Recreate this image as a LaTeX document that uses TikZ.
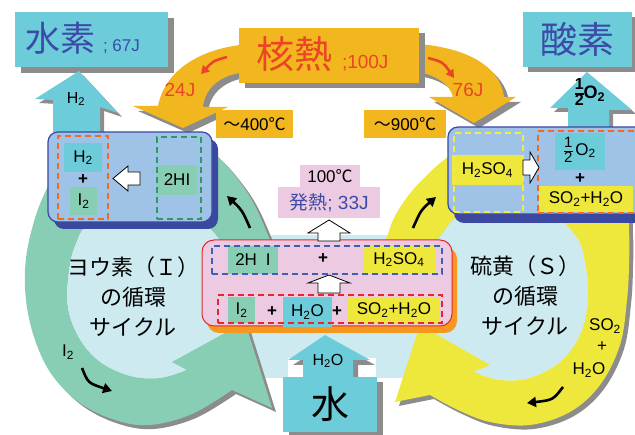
\documentclass[tikz,border=0pt]{standalone}
\usepackage{fontspec}
\setmainfont{Liberation Sans}
\newfontfamily\jp{Noto Sans CJK JP}
\usetikzlibrary{arrows.meta}
\definecolor{cyanb}{HTML}{6DCCDA}
\definecolor{greenr}{HTML}{88CEB4}
\definecolor{yellowr}{HTML}{EEE73C}
\definecolor{gold}{HTML}{F2B71F}
\definecolor{lightbg}{HTML}{CDEAF0}
\definecolor{boxblue}{HTML}{9EC3E6}
\definecolor{darkblue}{HTML}{3B48A0}
\definecolor{pinkb}{HTML}{ECCBE2}
\definecolor{redb}{HTML}{E8262B}
\definecolor{orangesh}{HTML}{F5981F}
\definecolor{shgray}{HTML}{8C8C8C}
\definecolor{textblue}{HTML}{3D4BA8}
\definecolor{textred}{HTML}{EA4525}
\definecolor{dashorange}{HTML}{F06A22}
\definecolor{dashgreen}{HTML}{2E9A62}
\definecolor{dashyellow}{HTML}{F4E84A}
\definecolor{dashblue}{HTML}{3F5EB4}
\definecolor{dashred}{HTML}{E5262E}
\newcommand\fs[1]{\fontsize{#1}{#1}\selectfont}
\newcommand\sbs[1]{\textsubscript{#1}}
\newcommand\halff[2]{{\fs{#1}\renewcommand\arraystretch{0.85}\setlength\arrayrulewidth{#2}\begin{tabular}[c]{@{}c@{}}1\\\hline 2\end{tabular}}}
\def\greenring{plot[smooth,tension=0.6] coordinates {(276,255) (270,240) (258,212) (247,192) (232,172) (218,157) (195,140) (150,135) (95,140) (62,160) (50,182) (36,215) (26,258) (26,300) (35,340) (52,375) (80,403) (115,420) (150,425) (192,414) (232,390)} -- (272,408) -- (245,322) -- (172,362) -- plot[smooth,tension=0.6] coordinates {(187,370) (160,378) (130,376) (100,362) (80,340) (68,310) (68,276) (75,245) (92,222) (150,205) (200,220) (227,250) (235,262)} -- cycle}
\def\greendisk{plot[smooth,tension=0.6] coordinates {(187,370) (160,378) (130,376) (100,362) (80,340) (68,310) (68,276) (75,245) (92,222) (150,205) (200,220) (227,250) (235,262)} -- (240,300) -- (205,345) -- cycle}
\def\yellowring{plot[smooth,tension=0.6] coordinates {(378,255) (387,237) (393,220) (405,200) (422,180) (448,157) (480,140) (540,132) (600,145) (625,185) (629,230) (629,265) (627,300) (620,345) (600,385) (570,412) (530,425) (490,422) (458,410) (430,395)} -- (395,402) -- (420,325) -- (490,365) -- plot[smooth,tension=0.6] coordinates {(473,372) (500,380) (530,378) (560,362) (580,335) (588,300) (585,262) (575,235) (540,205) (480,205) (455,218) (443,232) (430,250) (422,262)} -- cycle}
\def\yellowdisk{plot[smooth,tension=0.6] coordinates {(473,372) (500,380) (530,378) (560,362) (580,335) (588,300) (585,262) (575,235) (540,205) (480,205) (455,218) (443,232) (430,250) (422,262)} -- (415,300) -- (450,345) -- cycle}
\def\leftorange{(240,45) .. controls (200,50) and (165,70) .. (158,106) -- (133,106) -- (183,128) -- (228,107) -- (203,107) .. controls (205,88) and (220,76) .. (240,73) -- cycle}
\def\rightorange{(419,44) .. controls (465,48) and (500,65) .. (504,97) -- (516,97) -- (474,123) -- (429,97) -- (453,97) .. controls (450,85) and (438,76) .. (419,72) -- cycle}
\def\htwoarrow{(53,132) -- (53,100) -- (35,99) -- (79,71) -- (118,113) -- (100,107) -- (100,132) -- cycle}
\def\otwoarrow{(568,127) -- (568,108) -- (550,108) -- (587,72) -- (632,110) -- (609,110) -- (609,127) -- cycle}
\def\waterarrow{(303,377) -- (303,360) -- (288,360) -- (325,335) -- (370,360) -- (353,360) -- (353,377) -- cycle}
\tikzset{
 plain/.style={inner sep=0pt, outer sep=0pt},
 fillbox/.style={plain, fill=#1},
 formula/.style={font=\fs{17}, text=black},
 dashbox/.style={plain, draw=#1, line width=1.8pt, dash pattern=on 6pt off 4pt},
 blkarrow/.style={line width=2.6pt, -{Triangle[length=9pt,width=10pt]}, black},
 redarrow/.style={line width=2.6pt, -{Triangle[length=8pt,width=9pt]}, textred},
 hollow/.style={fill=white, draw=black, line width=0.8pt, line join=miter},
}
\begin{document}
\begin{tikzpicture}[x=1pt,y=-1pt]
\useasboundingbox (0,0) rectangle (635,435);
% background
\fill[lightbg] (200,235) rectangle (470,378);
\fill[white] (288,358) rectangle (376,378);
% rings
\fill[shgray, shift={(4,4)}] \greenring;
\fill[shgray, shift={(4,4)}] \yellowring;
\fill[lightbg] \greendisk;
\fill[lightbg] \yellowdisk;
\fill[greenr] \greenring;
\fill[yellowr] \yellowring;
% water
\fill[shgray, shift={(5,5)}] \waterarrow;
\fill[cyanb] \waterarrow;
\node[fillbox=shgray, minimum width=94pt, minimum height=55pt] (mizush) at (336,410) {};
\node[fillbox=cyanb, minimum width=94pt, minimum height=55pt, font=\jp\fs{38}] (mizu) at (330,404.5) {水};
\node[plain, font=\fs{16}] (h2oin) at (328,361) {H\sbs2O};
% nuclear heat arrows
\fill[shgray, shift={(5,5)}] \leftorange;
\fill[shgray, shift={(5,5)}] \rightorange;
\fill[gold] \leftorange;
\fill[gold] \rightorange;
\node[fillbox=shgray, minimum width=180pt, minimum height=55pt] (kaksh) at (335,60.5) {};
\node[fillbox=gold, minimum width=180pt, minimum height=55pt] (kak) at (329,55.5) {};
\node[plain, anchor=base west, text=textred] (kaktxt) at (256,69) {{\jp\fs{38}核熱}\hspace{10pt}{\fs{19};100J}};
\node[plain, text=textred, font=\fs{19}] (t24) at (180,90) {24J};
\node[plain, text=textred, font=\fs{19}] (t76) at (468,90) {76J};
\coordinate (rl1) at (227,57); \coordinate (rl2) at (201,74);
\draw[redarrow] (rl1) .. controls (213,61) .. (rl2);
\coordinate (rr1) at (428,58); \coordinate (rr2) at (454,78);
\draw[redarrow] (rr1) .. controls (443,62) .. (rr2);
% hydrogen / oxygen
\node[fillbox=shgray, minimum width=153pt, minimum height=55pt] (suish) at (97.5,45.5) {};
\node[fillbox=cyanb, minimum width=153pt, minimum height=55pt] (sui) at (91.5,39.5) {};
\node[plain, anchor=base west, text=textblue, font=\fs{17}] (suitxt) at (25,52) {{\jp\fs{35}水素}\hspace{8pt}; 67J};
\node[fillbox=shgray, minimum width=109pt, minimum height=55pt] (sansh) at (582.5,44.5) {};
\node[fillbox=cyanb, minimum width=109pt, minimum height=55pt, font=\jp\fs{37}, text=textblue] (san) at (577.5,39.5) {酸素};
\fill[shgray, shift={(4,4)}] \htwoarrow;
\fill[cyanb] \htwoarrow;
\node[plain, font=\fs{16}] (h2up) at (76,99) {H\sbs2};
\fill[shgray, shift={(4,4)}] \otwoarrow;
\fill[cyanb] \otwoarrow;
\node[plain, font=\bfseries\fs{18}] (o2up) at (590,94) {\halff{16}{1.6pt}O\sbs2};
% temperatures
\node[fillbox=gold, minimum width=77pt, minimum height=28pt, font=\fs{17}] (t400) at (254.5,124) {{\jp ～}400{\jp ℃}};
\node[fillbox=gold, minimum width=82pt, minimum height=28pt, font=\fs{17}] (t900) at (405,124) {{\jp ～}900{\jp ℃}};
% left blue box
\node[fillbox=darkblue, rounded corners=10pt, minimum width=164pt, minimum height=90pt] (lbsh) at (136,184) {};
\node[fillbox=boxblue, draw=darkblue, line width=1.2pt, rounded corners=10pt, minimum width=164pt, minimum height=90pt] (lbox) at (130,177) {};
\node[fillbox=cyanb, minimum width=38pt, minimum height=29pt, formula] (lh2) at (83,157.5) {H\sbs2};
\node[plain, formula] (lplus) at (83,180) {\textbf{+}};
\node[fillbox=greenr, minimum width=27pt, minimum height=28pt, formula] (li2) at (83.5,201) {I\sbs2};
\node[dashbox=dashorange, minimum width=50pt, minimum height=83pt] (lod) at (83,177.5) {};
\node[fillbox=greenr, minimum width=40pt, minimum height=30pt, formula] (l2hi) at (177,180) {2HI};
\node[dashbox=dashgreen, minimum width=44pt, minimum height=82pt] (lgd) at (179,178) {};
\draw[hollow] (140,172) -- (128,172) -- (128,166) -- (113,178.5) -- (128,191) -- (128,185) -- (140,185) -- cycle;
% right blue box
\node[fillbox=darkblue, rounded corners=10pt, minimum width=197pt, minimum height=87pt] (rbsh) at (552.5,179.5) {};
\node[fillbox=boxblue, draw=darkblue, line width=1.2pt, rounded corners=10pt, minimum width=197pt, minimum height=87pt] (rbox) at (546.5,170.5) {};
\node[fillbox=yellowr, minimum width=71pt, minimum height=30pt, formula] (rh2so4) at (487.5,170) {H\sbs2SO\sbs4};
\node[dashbox=dashyellow, minimum width=69pt, minimum height=79pt] (ryd) at (488.5,172.5) {};
\node[fillbox=cyanb, minimum width=50pt, minimum height=37pt, formula] (ro2) at (580,151.5) {\halff{15}{0.8pt}\,O\sbs2};
\node[plain, formula] (rplus) at (580,179) {\textbf{+}};
\node[fillbox=yellowr, minimum width=94pt, minimum height=26pt, formula] (rso2) at (586,199) {SO\sbs2+H\sbs2O};
\node[dashbox=dashorange, minimum width=107pt, minimum height=82pt] (rod) at (591.5,172) {};
\draw[hollow] (523,160) -- (530,160) -- (530,152) -- (539,167.5) -- (530,183) -- (530,175) -- (523,175) -- cycle;
% pink box
\node[fillbox=orangesh, rounded corners=12pt, minimum width=250pt, minimum height=86pt] (pksh) at (332,290) {};
\node[fillbox=pinkb, draw=redb, line width=1pt, rounded corners=12pt, minimum width=250pt, minimum height=86pt] (pbox) at (327,283) {};
\node[fillbox=greenr, minimum width=50pt, minimum height=28pt, formula] (p2hi) at (253,260) {2H\hspace{9pt}I};
\node[plain, formula] (pplus1) at (323,259) {\textbf{+}};
\node[fillbox=yellowr, minimum width=72pt, minimum height=27pt, formula] (ph2so4) at (399,259.5) {H\sbs2SO\sbs4};
\node[dashbox=dashblue, minimum width=230pt, minimum height=28pt] (pbd) at (327,260) {};
\node[fillbox=greenr, minimum width=27pt, minimum height=26pt, formula] (pi2) at (241.5,310) {I\sbs2};
\node[plain, formula] (pplus2) at (272,312) {\textbf{+}};
\node[fillbox=cyanb, minimum width=49pt, minimum height=30pt, formula] (ph2o) at (307.5,312) {H\sbs2O};
\node[plain, formula] (pplus3) at (337,312) {\textbf{+}};
\node[fillbox=yellowr, minimum width=92pt, minimum height=26pt, formula] (pso2) at (394,310) {SO\sbs2+H\sbs2O};
\node[dashbox=dashred, minimum width=224pt, minimum height=28pt] (prd) at (330,309) {};
\draw[hollow] (318,293) -- (318,283) -- (308,283) -- (329,275) -- (350,283) -- (340,283) -- (340,293) -- cycle;
\draw[hollow] (318,241) -- (318,233) -- (308,233) -- (329,220) -- (350,233) -- (340,233) -- (340,241) -- cycle;
\node[fillbox=pinkb, minimum width=60pt, minimum height=22pt, font=\fs{17}] (p100) at (330,176) {100{\jp ℃}};
\node[fillbox=pinkb, minimum width=102pt, minimum height=31pt, font=\fs{19}, text=textblue] (phat) at (329,202.5) {{\jp 発熱}; 33J};
% cycle labels
\node[plain, align=center, font=\jp\fontsize{22}{30}\selectfont] (cycI) at (133,297) {ヨウ素（Ｉ）\\の循環\\サイクル};
\node[plain, align=center, font=\jp\fontsize{22}{30}\selectfont] (cycS) at (525,296) {硫黄（Ｓ）\\の循環\\サイクル};
\node[plain, formula] (li2lab) at (68,352) {I\sbs2};
\coordinate (ia1) at (82,368); \coordinate (ia2) at (112,391);
\draw[blkarrow] (ia1) .. controls (88,383) .. (ia2);
\node[plain, formula] (so2lab) at (605,326) {SO\sbs2};
\node[plain, formula] (pluslab) at (602,347) {+};
\node[plain, formula] (h2olab) at (589,370) {H\sbs2O};
\coordinate (sa1) at (563,387); \coordinate (sa2) at (527,403);
\draw[blkarrow] (sa1) .. controls (553,400) .. (sa2);
\coordinate (ga1) at (250,228); \coordinate (ga2) at (227,196);
\draw[blkarrow] (ga1) .. controls (242,210) .. (ga2);
\coordinate (ya1) at (413,228); \coordinate (ya2) at (436,197);
\draw[blkarrow] (ya1) .. controls (421,210) .. (ya2);
\end{tikzpicture}
\end{document}
